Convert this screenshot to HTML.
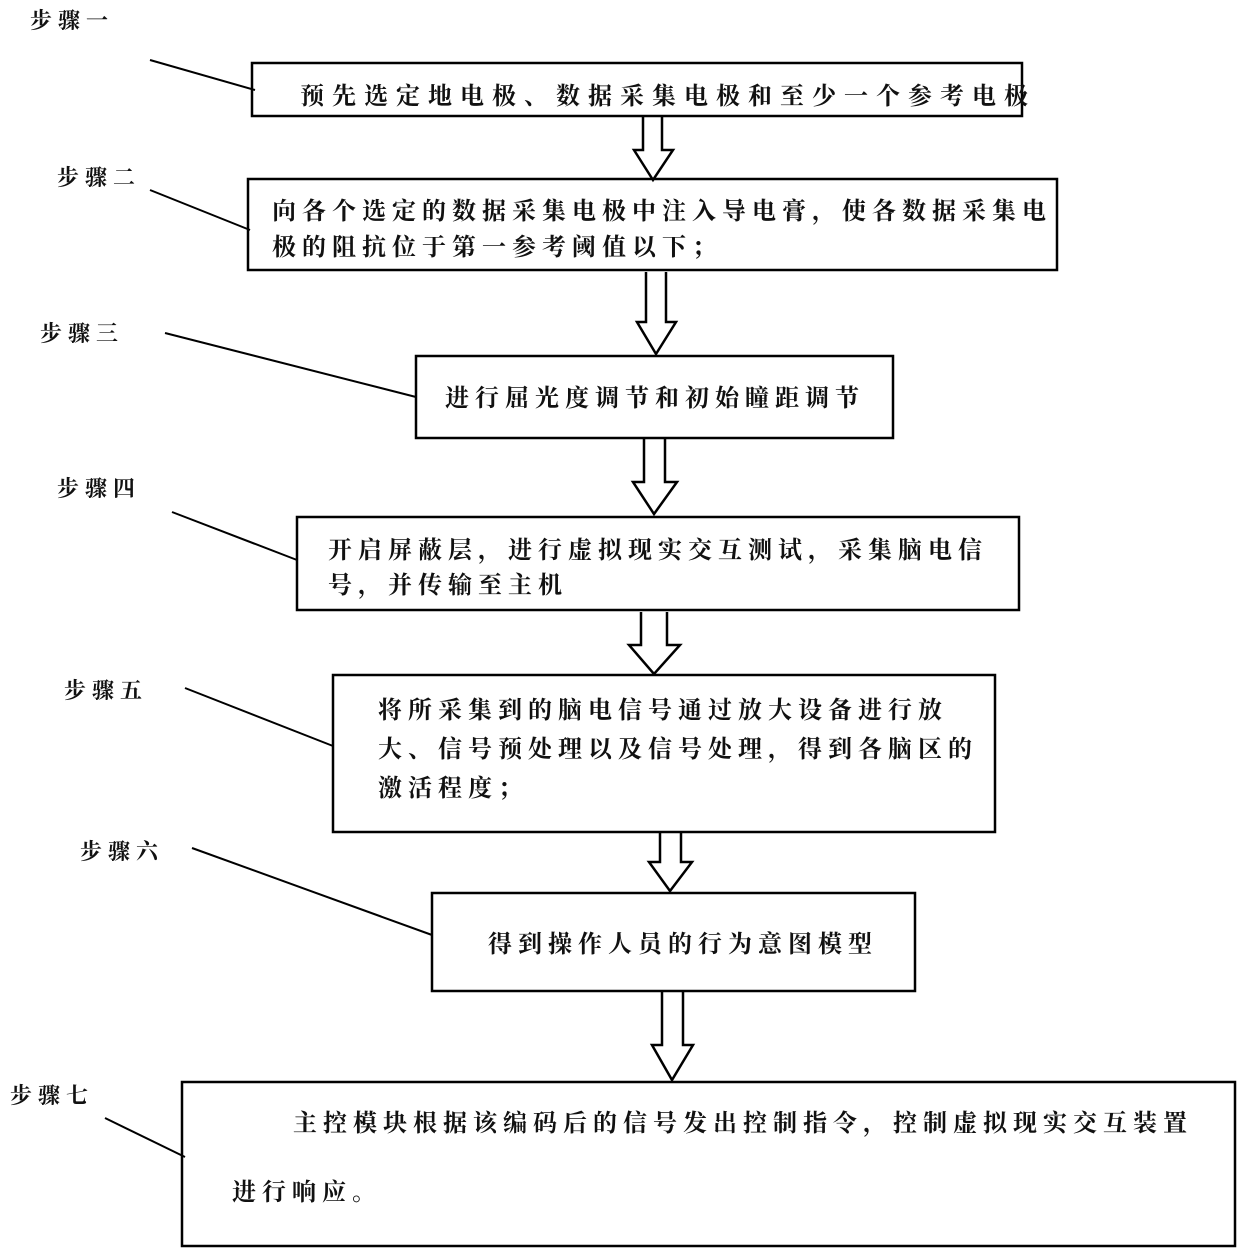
<!DOCTYPE html>
<html><head><meta charset="utf-8"><style>
body{margin:0;background:#fff}
svg{display:block}
text{font-family:"Liberation Serif","Noto Serif CJK SC","Noto Sans CJK SC",serif;font-weight:bold;fill:#111}
.b{font-size:24px;letter-spacing:6px}
.l{font-size:22px;letter-spacing:6px}
</style></head><body>
<svg width="1240" height="1258" viewBox="0 0 1240 1258" xmlns="http://www.w3.org/2000/svg">
<g fill="none" stroke="#000" stroke-width="2.5">
<rect x="252" y="63" width="770" height="53"/>
<rect x="248" y="179" width="809" height="91"/>
<rect x="416" y="356" width="477" height="82"/>
<rect x="297" y="517" width="722" height="93"/>
<rect x="333" y="675" width="662" height="157"/>
<rect x="432" y="893" width="483" height="98"/>
<rect x="182" y="1082" width="1053" height="164"/>
<path d="M643 116V150H634L653 180L673 150H662V116"/>
<path d="M646 272V322H637L656 354L676 322H666V272"/>
<path d="M644 438V482H633L654 514L677 482H665V438"/>
<path d="M641 612V645H629L654 674L680 645H667V612"/>
<path d="M660 832V862H649L670 891L692 862H681V832"/>
<path d="M662 992V1045H652L672 1080L693 1045H683V992"/>
<g stroke-width="2">
<line x1="150" y1="60" x2="255" y2="90"/>
<line x1="150" y1="190" x2="250" y2="230"/>
<line x1="165" y1="333" x2="416" y2="397"/>
<line x1="172" y1="512" x2="297" y2="560"/>
<line x1="185" y1="688" x2="333" y2="746"/>
<line x1="192" y1="848" x2="432" y2="935"/>
<line x1="105" y1="1118" x2="185" y2="1157"/>
</g>
</g>
<text class="l" x="30" y="28">步骤一</text>
<text class="l" x="57" y="185">步骤二</text>
<text class="l" x="40" y="341">步骤三</text>
<text class="l" x="57" y="496">步骤四</text>
<text class="l" x="64" y="698">步骤五</text>
<text class="l" x="80" y="859">步骤六</text>
<text class="l" x="10" y="1103">步骤七</text>
<text class="b" x="300" y="104" style="letter-spacing:8px">预先选定地电极、数据采集电极和至少一个参考电极</text>
<text class="b" x="272" y="219">向各个选定的数据采集电极中注入导电膏，使各数据采集电</text>
<text class="b" x="272" y="255">极的阻抗位于第一参考阈值以下；</text>
<text class="b" x="445" y="406">进行屈光度调节和初始瞳距调节</text>
<text class="b" x="328" y="558">开启屏蔽层，进行虚拟现实交互测试，采集脑电信</text>
<text class="b" x="328" y="593">号，并传输至主机</text>
<text class="b" x="378" y="718">将所采集到的脑电信号通过放大设备进行放</text>
<text class="b" x="378" y="757">大、信号预处理以及信号处理，得到各脑区的</text>
<text class="b" x="378" y="796">激活程度；</text>
<text class="b" x="488" y="952">得到操作人员的行为意图模型</text>
<text class="b" x="293" y="1131">主控模块根据该编码后的信号发出控制指令，控制虚拟现实交互装置</text>
<text class="b" x="232" y="1200">进行响应。</text>
</svg>
</body></html>
